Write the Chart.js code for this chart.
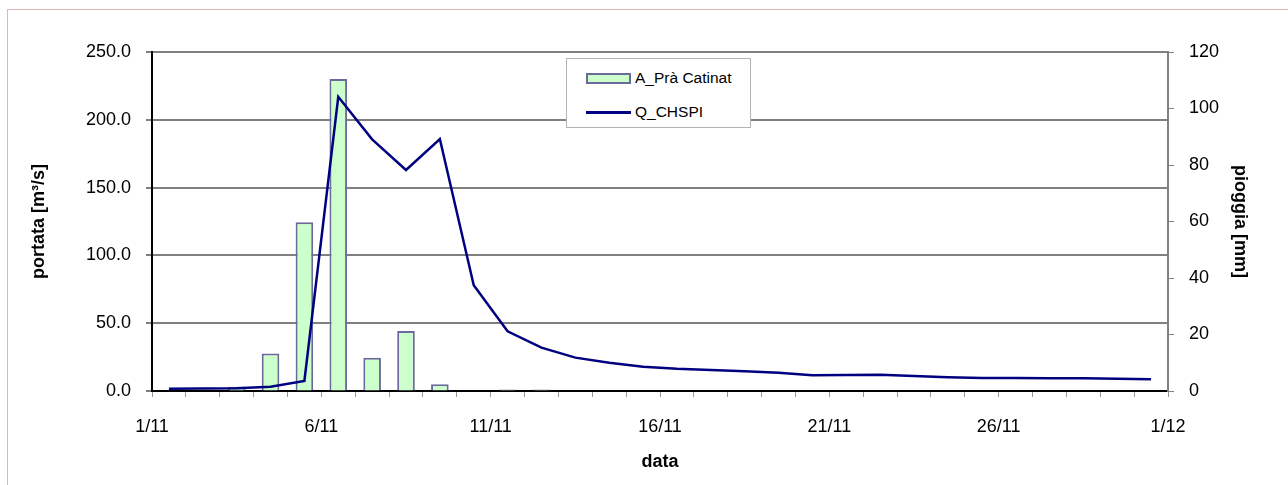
<!DOCTYPE html>
<html>
<head>
<meta charset="utf-8">
<script src="https://cdn.jsdelivr.net/npm/chart.js@4/dist/chart.umd.min.js"></script>
<style>
  html, body { margin: 0; padding: 0; background: #fff; }
  #wrap { position: relative; width: 1288px; height: 485px; overflow: hidden; }
  #frame { position: absolute; left: 7px; top: 9px; width: 1400px; height: 600px;
           border-top: 1px solid #e2b4b4; border-left: 1px solid #e2b4b4; }
  canvas { position: absolute; left: 0; top: 0; }
  #legend { position: absolute; left: 566px; top: 58px; width: 185px; height: 70px;
            border: 1px solid #b4b4b4; background: #fff; box-sizing: border-box;
            font-family: 'Liberation Sans', Arial, sans-serif;
            font-size: 15.5px; color: #000; }
  .row { position: absolute; left: 19px; height: 24px; display: flex; align-items: center; }
  .sw { width: 45px; margin-right: 4px; box-sizing: border-box; }
</style>
</head>
<body>
<div id="wrap">
  <div id="frame"></div>
  <canvas id="c" width="1288" height="485"></canvas>
  <div id="legend"></div>
</div>
<script>
// ---- data ----
const days = ['1/11','2/11','3/11','4/11','5/11','6/11','7/11','8/11','9/11','10/11',
              '11/11','12/11','13/11','14/11','15/11','16/11','17/11','18/11','19/11','20/11',
              '21/11','22/11','23/11','24/11','25/11','26/11','27/11','28/11','29/11','30/11'];
const xTickLabels = ['1/11','6/11','11/11','16/11','21/11','26/11','1/12'];
const rainPraCatinat = [0, 0, 1.5, 13.3, 59.7, 110.4, 11.8, 21.2, 2.4, 0,
                        0.5, 0.5, 0, 0, 0, 0, 0, 0, 0, 0,
                        0, 0, 0, 0, 0, 0, 0, 0, 0, 0];
const qCHSPI = [1.7, 1.8, 2.0, 3.2, 7.4, 217, 185.6, 163, 185.8, 78,
                44, 32, 24.6, 20.9, 17.9, 16.4, 15.5, 14.6, 13.5, 11.6,
                11.8, 12.0, 11.1, 10.1, 9.6, 9.5, 9.4, 9.4, 9.0, 8.6];
const seriesNames = ['A_Prà Catinat', 'Q_CHSPI'];

const FONT = "'Liberation Sans', Arial, sans-serif";

const barPts = rainPraCatinat.map((v, i) => ({ x: i + 0.5, y: v }));
const linePts = qCHSPI.map((v, i) => ({ x: i + 0.5, y: v }));

const chart = new Chart(document.getElementById('c'), {
  data: {
    datasets: [
      { type: 'line', label: seriesNames[1], data: linePts, yAxisID: 'y', xAxisID: 'x',
        borderColor: '#000080', backgroundColor: '#000080', borderWidth: 2.5,
        pointRadius: 0, tension: 0, order: 0 },
      { type: 'bar', label: seriesNames[0], data: barPts, yAxisID: 'y1', xAxisID: 'x',
        backgroundColor: '#ccffcc', borderColor: '#6a6a9c', borderWidth: 2,
        barPercentage: 0.52, categoryPercentage: 1, order: 1 }
    ]
  },
  options: {
    responsive: false,
    animation: false,
    layout: { padding: { top: 52, left: 0, right: 0, bottom: 0 } },
    plugins: { legend: { display: false }, tooltip: { enabled: false } },
    scales: {
      x: {
        type: 'linear', position: 'bottom', min: 0, max: 30, offset: false,
        afterFit: s => { s.height = 94; },
        border: { display: true, color: '#000', width: 2 },
        grid: { offset: false, drawOnChartArea: false, drawTicks: true, tickLength: 6, color: '#9a9a9a', lineWidth: 1 },
        ticks: {
          stepSize: 1, autoSkip: false, maxRotation: 0, padding: 19,
          color: '#000', font: { family: FONT, size: 18 },
          callback: v => (v % 5 === 0 ? xTickLabels[v / 5] : '')
        },
        title: { display: true, text: 'data', color: '#000',
                 font: { family: FONT, size: 18, weight: 'bold', lineHeight: 1.2 },
                 padding: { top: 0, bottom: 12 } }
      },
      y: {
        type: 'linear', position: 'left', min: 0, max: 250,
        afterFit: s => { s.width = 152; },
        border: { display: true, color: '#000', width: 2 },
        grid: { drawOnChartArea: true, drawTicks: true, tickLength: 6,
                color: c => (c.tick && c.tick.value === 0 ? 'rgba(0,0,0,0)' : '#808080'),
                tickColor: '#808080', lineWidth: 2 },
        ticks: { stepSize: 50, padding: 15, color: '#000', font: { family: FONT, size: 18 },
                 callback: v => v.toFixed(1) },
        title: { display: true, text: 'portata [m³/s]', color: '#000',
                 font: { family: FONT, size: 18, weight: 'bold', lineHeight: 1.2 },
                 padding: { top: 28, bottom: 0 } }
      },
      y1: {
        type: 'linear', position: 'right', min: 0, max: 120,
        afterFit: s => { s.width = 120; },
        border: { display: true, color: '#808080', width: 2 },
        grid: { drawOnChartArea: false, drawTicks: true, tickLength: 6, color: '#808080', lineWidth: 1 },
        ticks: { stepSize: 20, padding: 15, color: '#000', font: { family: FONT, size: 18 } },
        title: { display: true, text: 'pioggia [mm]', color: '#000',
                 font: { family: FONT, size: 18, weight: 'bold', lineHeight: 1.2 },
                 padding: { top: 37, bottom: 0 } }
      }
    }
  }
});

// HTML legend built from the datasets (bar first, then line)
const leg = document.getElementById('legend');
const order = [1, 0];
order.forEach((di, k) => {
  const ds = chart.data.datasets[di];
  const row = document.createElement('div');
  row.className = 'row';
  row.style.top = (k === 0 ? 7 : 41) + 'px';
  const sw = document.createElement('div');
  sw.className = 'sw';
  if (ds.type === 'bar') {
    sw.style.height = '11px';
    sw.style.background = ds.backgroundColor;
    sw.style.border = '2px solid ' + ds.borderColor;
  } else {
    sw.style.height = '3px';
    sw.style.background = ds.borderColor;
  }
  const tx = document.createElement('span');
  tx.textContent = ds.label;
  row.appendChild(sw); row.appendChild(tx);
  leg.appendChild(row);
});
</script>
</body>
</html>
